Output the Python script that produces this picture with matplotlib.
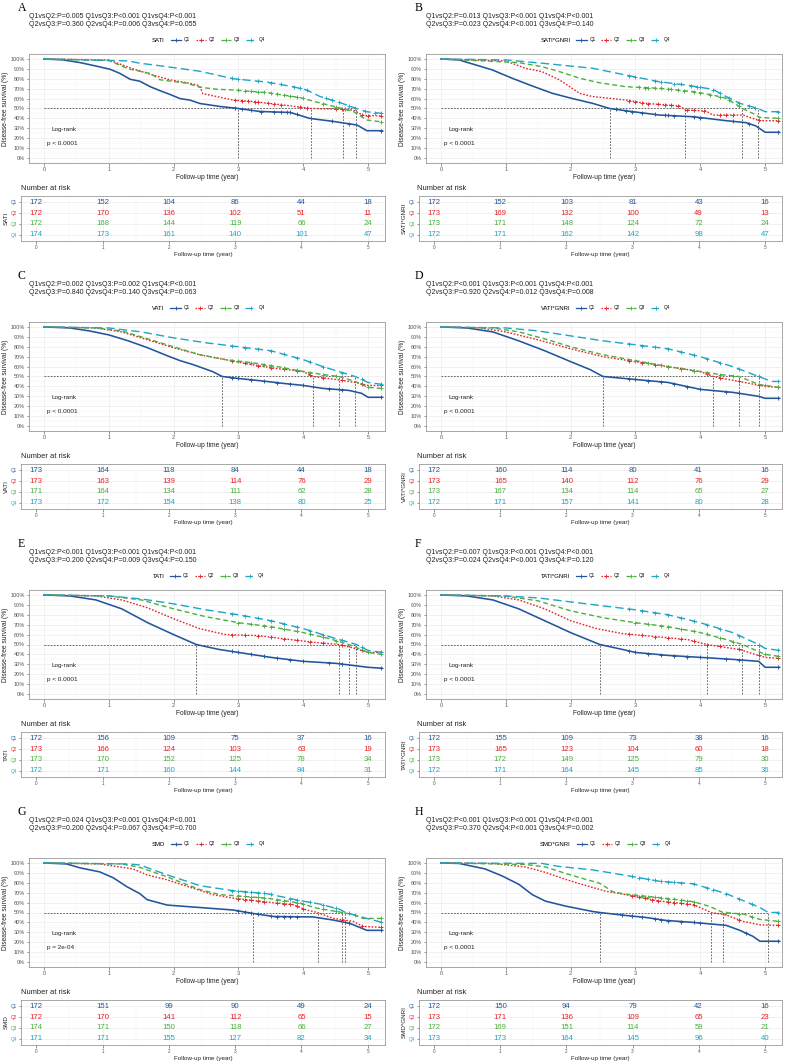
import numpy as np
import matplotlib
matplotlib.use("Agg")
import matplotlib.pyplot as plt
from matplotlib.lines import Line2D
from matplotlib.ticker import MultipleLocator, PercentFormatter

plt.rcParams["font.family"] = ["Liberation Sans", "DejaVu Sans"]

W, H = 787, 1064
GROUPS = ["Q1", "Q2", "Q3", "Q4"]
COLORS = ["#22559B", "#E3242B", "#4CAF3F", "#1FA5C6"]
STYLES = ["-", (0, (1.2, 1.2)), (0, (3.5, 2.2)), (0, (6, 3))]
YEARS = [0, 1, 2, 3, 4, 5]

# ---------------- A : SATI
A_q1 = [(0, 1), (0.3, 0.99), (0.56, 0.963), (0.86, 0.92), (1.02, 0.896), (1.17, 0.855), (1.33, 0.795),
        (1.48, 0.775), (1.64, 0.72), (1.79, 0.68), (1.94, 0.643), (2.1, 0.6), (2.25, 0.585), (2.41, 0.55),
        (2.72, 0.52), (3.0, 0.5), (3.33, 0.47), (3.8, 0.46), (4.1, 0.40), (4.46, 0.37), (4.83, 0.333),
        (4.98, 0.276), (5.22, 0.276)]
A_q2 = [(0, 1), (1.0, 0.99), (1.33, 0.91), (1.64, 0.845), (1.94, 0.79), (2.25, 0.755), (2.4, 0.73),
        (2.45, 0.65), (2.92, 0.585), (3.23, 0.57), (3.7, 0.535), (4.12, 0.50), (4.46, 0.495),
        (4.77, 0.485), (4.92, 0.43), (5.22, 0.425)]
A_q3 = [(0, 1), (1.0, 0.985), (1.3, 0.9), (1.64, 0.855), (1.79, 0.79), (2.2, 0.755), (2.41, 0.714),
        (2.67, 0.694), (2.92, 0.687), (3.44, 0.66), (3.95, 0.61), (4.2, 0.566), (4.6, 0.50),
        (4.77, 0.47), (4.98, 0.384), (5.22, 0.364)]
A_q4 = [(0, 1), (1.3, 0.98), (1.48, 0.957), (1.9, 0.922), (2.41, 0.875), (2.92, 0.80), (3.44, 0.767),
        (3.84, 0.72), (4.05, 0.687), (4.26, 0.62), (4.52, 0.57), (4.82, 0.50), (4.98, 0.467), (5.22, 0.45)]
A_c1 = [2.95, 3.05, 3.2, 3.35, 3.55, 3.65, 3.75, 3.8, 3.9, 4.45, 4.7, 5.2]
A_c2 = [2.95, 3.05, 3.15, 3.25, 3.3, 3.45, 3.55, 3.65, 3.95, 4.05, 4.5, 4.6, 4.9, 5.0, 5.2]
A_c3 = [3.0, 3.1, 3.2, 3.3, 3.4, 3.5, 3.6, 3.7, 3.8, 3.9, 4.0, 4.3, 4.5, 4.65, 5.2]
A_c4 = [2.9, 3.0, 3.3, 3.5, 3.65, 3.85, 3.95, 4.05, 4.35, 4.45, 4.55, 4.7, 4.8, 4.95, 5.1, 5.2]
A_med = [3.0, 4.12, 4.62, 4.82]
A_risk = [[172, 152, 104, 86, 44, 18], [172, 170, 136, 102, 51, 11],
          [172, 168, 144, 119, 66, 24], [174, 173, 161, 140, 101, 47]]
A_p = ["Q1vsQ2:P=0.005 Q1vsQ3:P<0.001 Q1vsQ4:P<0.001", "Q2vsQ3:P=0.360 Q2vsQ4:P=0.006 Q3vsQ4:P=0.055"]

# ---------------- B : SATI*GNRI
B_q1 = [(0, 1), (0.28, 0.99), (0.79, 0.89), (1.1, 0.805), (1.41, 0.727), (1.72, 0.653), (2.03, 0.6),
        (2.34, 0.552), (2.6, 0.50), (2.96, 0.468), (3.37, 0.434), (3.89, 0.417), (4.4, 0.377),
        (4.71, 0.357), (4.86, 0.323), (5.0, 0.26), (5.22, 0.26)]
B_q2 = [(0, 1), (1.0, 0.98), (1.3, 0.906), (1.56, 0.872), (1.83, 0.788), (2.14, 0.653), (2.34, 0.62),
        (2.85, 0.586), (3.16, 0.552), (3.68, 0.525), (3.77, 0.485), (4.09, 0.475), (4.19, 0.434),
        (4.66, 0.434), (4.81, 0.40), (4.92, 0.377), (5.22, 0.377)]
B_q3 = [(0, 1), (1.2, 0.963), (1.56, 0.922), (1.83, 0.872), (2.14, 0.805), (2.44, 0.76), (2.85, 0.72),
        (3.37, 0.704), (3.89, 0.67), (4.19, 0.636), (4.4, 0.603), (4.65, 0.50), (4.81, 0.451),
        (4.92, 0.41), (5.22, 0.40)]
B_q4 = [(0, 1), (1.0, 0.99), (1.56, 0.957), (2.34, 0.906), (2.85, 0.838), (3.37, 0.77), (3.78, 0.737),
        (4.19, 0.694), (4.4, 0.62), (4.61, 0.552), (4.89, 0.50), (5.0, 0.468), (5.22, 0.468)]
B_c1 = [2.7, 2.85, 2.95, 3.1, 3.3, 3.45, 3.5, 3.6, 3.9, 4.0, 4.5, 4.75, 5.2]
B_c2 = [2.9, 3.0, 3.1, 3.2, 3.35, 3.45, 3.55, 3.65, 3.8, 3.9, 4.05, 4.3, 4.4, 4.5, 4.9, 5.2]
B_c3 = [3.05, 3.15, 3.2, 3.3, 3.4, 3.5, 3.55, 3.65, 3.75, 3.9, 4.0, 4.15, 4.3, 4.45, 4.6, 5.2]
B_c4 = [2.9, 3.0, 3.3, 3.4, 3.6, 3.7, 3.85, 3.95, 4.0, 4.2, 4.3, 4.45, 4.6, 4.75, 4.85, 5.2]
B_med = [2.6, 3.77, 4.65, 4.89]
B_risk = [[172, 152, 103, 81, 43, 16], [173, 169, 132, 100, 49, 13],
          [173, 171, 148, 124, 72, 24], [172, 171, 162, 142, 98, 47]]
B_p = ["Q1vsQ2:P=0.013 Q1vsQ3:P<0.001 Q1vsQ4:P<0.001", "Q2vsQ3:P=0.023 Q2vsQ4:P<0.001 Q3vsQ4:P=0.140"]

# ---------------- C : VATI
C_q1 = [(0, 1), (0.4, 0.99), (0.7, 0.96), (1.0, 0.92), (1.3, 0.86), (1.6, 0.79), (1.9, 0.71), (2.1, 0.66),
        (2.3, 0.62), (2.6, 0.55), (2.75, 0.5), (3.0, 0.48), (3.3, 0.46), (3.7, 0.43), (4.0, 0.41),
        (4.3, 0.38), (4.7, 0.36), (4.9, 0.33), (5.0, 0.29), (5.22, 0.29)]
C_q2 = [(0, 1), (0.8, 0.99), (1.2, 0.95), (1.6, 0.87), (2.0, 0.79), (2.4, 0.72), (2.8, 0.67), (3.2, 0.62),
        (3.6, 0.58), (4.0, 0.55), (4.15, 0.5), (4.5, 0.47), (4.8, 0.44), (5.0, 0.41), (5.22, 0.41)]
C_q3 = [(0, 1), (0.8, 0.99), (1.2, 0.96), (1.6, 0.88), (2.0, 0.8), (2.4, 0.72), (2.8, 0.67), (3.2, 0.64),
        (3.6, 0.6), (4.0, 0.55), (4.3, 0.52), (4.55, 0.5), (4.8, 0.45), (5.0, 0.39), (5.22, 0.38)]
C_q4 = [(0, 1), (1.0, 0.99), (1.5, 0.95), (2.0, 0.89), (2.5, 0.84), (3.0, 0.8), (3.5, 0.76), (4.0, 0.67),
        (4.3, 0.6), (4.6, 0.54), (4.8, 0.5), (5.0, 0.44), (5.22, 0.42)]
C_c1 = [2.9, 3.0, 3.2, 3.4, 3.6, 3.8, 4.0, 4.4, 4.6, 5.2]
C_c2 = [2.9, 3.1, 3.3, 3.5, 3.7, 3.9, 4.1, 4.3, 4.6, 4.9, 5.2]
C_c3 = [3.0, 3.2, 3.4, 3.5, 3.7, 3.9, 4.1, 4.3, 4.5, 5.0, 5.2]
C_c4 = [2.9, 3.1, 3.3, 3.5, 3.7, 3.9, 4.1, 4.3, 4.6, 4.9, 5.2]
C_med = [2.75, 4.15, 4.55, 4.8]
C_risk = [[173, 164, 118, 84, 44, 18], [173, 163, 139, 114, 76, 29],
          [171, 164, 134, 111, 62, 28], [173, 172, 154, 138, 80, 25]]
C_p = ["Q1vsQ2:P=0.002 Q1vsQ3:P=0.002 Q1vsQ4:P<0.001", "Q2vsQ3:P=0.840 Q2vsQ4:P=0.140 Q3vsQ4:P=0.063"]

# ---------------- D : VATI*GNRI
D_q1 = [(0, 1), (0.4, 0.99), (0.8, 0.95), (1.2, 0.86), (1.6, 0.76), (2.0, 0.65), (2.3, 0.57), (2.5, 0.5),
        (3.0, 0.47), (3.5, 0.44), (4.0, 0.37), (4.5, 0.34), (4.9, 0.3), (5.0, 0.28), (5.22, 0.28)]
D_q2 = [(0, 1), (0.6, 0.99), (1.0, 0.95), (1.5, 0.87), (2.0, 0.78), (2.5, 0.7), (3.0, 0.65), (3.5, 0.6),
        (4.0, 0.55), (4.2, 0.5), (4.6, 0.45), (5.0, 0.4), (5.22, 0.39)]
D_q3 = [(0, 1), (0.8, 0.99), (1.2, 0.95), (1.6, 0.88), (2.0, 0.8), (2.5, 0.72), (3.0, 0.66), (3.5, 0.6),
        (4.0, 0.55), (4.3, 0.52), (4.6, 0.5), (4.9, 0.42), (5.22, 0.39)]
D_q4 = [(0, 1), (1.0, 0.99), (1.5, 0.96), (2.0, 0.91), (2.5, 0.86), (3.0, 0.82), (3.5, 0.78), (4.0, 0.7),
        (4.5, 0.6), (4.9, 0.5), (5.1, 0.45), (5.22, 0.45)]
D_c1 = [2.9, 3.0, 3.2, 3.4, 3.6, 3.8, 4.0, 4.4, 4.6, 5.2]
D_c2 = [2.9, 3.1, 3.3, 3.5, 3.7, 3.9, 4.1, 4.3, 4.6, 4.9, 5.2]
D_c3 = [3.0, 3.2, 3.4, 3.5, 3.7, 3.9, 4.1, 4.3, 4.5, 5.0, 5.2]
D_c4 = [2.9, 3.1, 3.3, 3.5, 3.7, 3.9, 4.1, 4.3, 4.6, 4.9, 5.2]
D_med = [2.5, 4.2, 4.6, 4.9]
D_risk = [[172, 160, 114, 80, 41, 16], [173, 165, 140, 112, 76, 29],
          [173, 167, 134, 114, 65, 27], [172, 171, 157, 141, 80, 28]]
D_p = ["Q1vsQ2:P<0.001 Q1vsQ3:P<0.001 Q1vsQ4:P<0.001", "Q2vsQ3:P=0.920 Q2vsQ4:P=0.012 Q3vsQ4:P=0.008"]

# ---------------- E : TATI
E_q1 = [(0, 1), (0.4, 0.99), (0.8, 0.95), (1.2, 0.86), (1.6, 0.72), (2.0, 0.6), (2.35, 0.5), (2.7, 0.45),
        (3.0, 0.42), (3.5, 0.37), (4.0, 0.33), (4.5, 0.31), (5.0, 0.27), (5.22, 0.26)]
E_q2 = [(0, 1), (0.8, 0.99), (1.2, 0.95), (1.6, 0.87), (2.0, 0.76), (2.4, 0.66), (2.8, 0.6), (3.3, 0.59),
        (3.8, 0.55), (4.2, 0.52), (4.55, 0.5), (4.8, 0.46), (5.0, 0.42), (5.22, 0.42)]
E_q3 = [(0, 1), (1.0, 0.99), (1.5, 0.95), (2.0, 0.86), (2.5, 0.78), (3.0, 0.72), (3.5, 0.68), (4.0, 0.62),
        (4.4, 0.56), (4.7, 0.5), (5.0, 0.42), (5.22, 0.4)]
E_q4 = [(0, 1), (1.0, 0.99), (1.5, 0.96), (2.0, 0.91), (2.5, 0.85), (3.0, 0.8), (3.5, 0.74), (4.0, 0.66),
        (4.5, 0.56), (4.82, 0.5), (5.0, 0.44), (5.22, 0.42)]
E_c1 = [2.9, 3.0, 3.2, 3.4, 3.6, 3.8, 4.0, 4.4, 4.6, 5.2]
E_c2 = [2.9, 3.1, 3.3, 3.5, 3.7, 3.9, 4.1, 4.3, 4.6, 4.9, 5.2]
E_c3 = [3.0, 3.2, 3.4, 3.5, 3.7, 3.9, 4.1, 4.3, 4.5, 5.0, 5.2]
E_c4 = [2.9, 3.1, 3.3, 3.5, 3.7, 3.9, 4.1, 4.3, 4.6, 4.9, 5.2]
E_med = [2.35, 4.55, 4.7, 4.82]
E_risk = [[172, 156, 109, 75, 37, 16], [173, 166, 124, 103, 63, 19],
          [173, 170, 152, 125, 78, 34], [172, 171, 160, 144, 84, 31]]
E_p = ["Q1vsQ2:P<0.001 Q1vsQ3:P<0.001 Q1vsQ4:P<0.001", "Q2vsQ3:P=0.200 Q2vsQ4:P=0.009 Q3vsQ4:P=0.150"]

# ---------------- F : TATI*GNRI
F_q1 = [(0, 1), (0.4, 0.99), (0.8, 0.95), (1.2, 0.86), (1.6, 0.74), (2.0, 0.62), (2.45, 0.5), (2.8, 0.45),
        (3.0, 0.42), (3.5, 0.39), (4.0, 0.37), (4.5, 0.35), (4.9, 0.33), (5.0, 0.27), (5.22, 0.27)]
F_q2 = [(0, 1), (0.8, 0.99), (1.2, 0.95), (1.6, 0.86), (2.0, 0.74), (2.4, 0.66), (2.8, 0.61), (3.3, 0.58),
        (3.8, 0.55), (4.1, 0.5), (4.6, 0.45), (5.0, 0.37), (5.22, 0.36)]
F_q3 = [(0, 1), (1.0, 0.99), (1.5, 0.94), (2.0, 0.84), (2.5, 0.77), (3.0, 0.72), (3.5, 0.68), (4.0, 0.62),
        (4.4, 0.55), (4.65, 0.5), (5.0, 0.4), (5.22, 0.38)]
F_q4 = [(0, 1), (1.0, 0.99), (1.5, 0.97), (2.0, 0.93), (2.5, 0.89), (3.0, 0.85), (3.5, 0.8), (4.0, 0.72),
        (4.5, 0.62), (4.9, 0.5), (5.0, 0.46), (5.22, 0.44)]
F_c1 = [2.9, 3.0, 3.2, 3.4, 3.6, 3.8, 4.0, 4.4, 4.6, 5.2]
F_c2 = [2.9, 3.1, 3.3, 3.5, 3.7, 3.9, 4.1, 4.3, 4.6, 4.9, 5.2]
F_c3 = [3.0, 3.2, 3.4, 3.5, 3.7, 3.9, 4.1, 4.3, 4.5, 5.0, 5.2]
F_c4 = [2.9, 3.1, 3.3, 3.5, 3.7, 3.9, 4.1, 4.3, 4.6, 4.9, 5.2]
F_med = [2.45, 4.1, 4.65, 4.9]
F_risk = [[172, 155, 109, 73, 38, 16], [173, 165, 123, 104, 60, 18],
          [173, 172, 149, 125, 79, 30], [172, 171, 164, 145, 85, 36]]
F_p = ["Q1vsQ2:P=0.007 Q1vsQ3:P<0.001 Q1vsQ4:P<0.001", "Q2vsQ3:P=0.024 Q2vsQ4:P<0.001 Q3vsQ4:P=0.120"]

# ---------------- G : SMD
G_q1 = [(0, 1), (0.35, 0.99), (0.56, 0.95), (0.86, 0.91), (1.07, 0.85), (1.28, 0.76), (1.48, 0.69),
        (1.59, 0.63), (1.9, 0.575), (2.41, 0.55), (2.92, 0.525), (3.23, 0.49), (3.54, 0.46),
        (4.15, 0.455), (4.46, 0.424), (4.72, 0.39), (4.98, 0.32), (5.22, 0.32)]
G_q2 = [(0, 1), (0.86, 0.99), (1.37, 0.94), (1.59, 0.88), (1.9, 0.83), (2.3, 0.745), (2.61, 0.68),
        (2.92, 0.645), (3.44, 0.605), (3.84, 0.58), (4.05, 0.525), (4.22, 0.5), (4.46, 0.44),
        (4.77, 0.41), (4.92, 0.36), (5.22, 0.35)]
G_q3 = [(0, 1), (1.2, 0.99), (1.48, 0.955), (1.9, 0.86), (2.41, 0.73), (2.72, 0.68), (3.44, 0.645),
        (3.95, 0.595), (4.2, 0.545), (4.6, 0.50), (4.77, 0.48), (4.92, 0.44), (5.22, 0.44)]
G_q4 = [(0, 1), (1.3, 0.99), (1.48, 0.98), (1.9, 0.88), (2.41, 0.77), (2.92, 0.72), (3.44, 0.69),
        (3.95, 0.62), (4.26, 0.585), (4.57, 0.53), (4.65, 0.50), (4.98, 0.44), (5.22, 0.40)]
G_c1 = [3.0, 3.1, 3.2, 3.3, 3.5, 3.6, 3.7, 3.8, 3.9, 4.7, 5.2]
G_c2 = [3.0, 3.1, 3.2, 3.3, 3.4, 3.6, 3.7, 3.8, 3.9, 4.0, 4.6, 4.9, 5.2]
G_c3 = [3.0, 3.1, 3.2, 3.3, 3.4, 3.6, 3.7, 3.9, 4.0, 4.3, 4.5, 4.8, 5.2]
G_c4 = [2.9, 3.0, 3.1, 3.2, 3.3, 3.4, 3.5, 3.8, 3.9, 4.1, 4.3, 4.5, 4.7, 5.2]
G_med = [3.22, 4.22, 4.6, 4.65]
G_risk = [[172, 151, 99, 90, 49, 24], [172, 170, 141, 112, 65, 15],
          [174, 171, 150, 118, 66, 27], [171, 171, 155, 127, 82, 34]]
G_p = ["Q1vsQ2:P=0.024 Q1vsQ3:P<0.001 Q1vsQ4:P<0.001", "Q2vsQ3:P=0.200 Q2vsQ4:P=0.067 Q3vsQ4:P=0.700"]

# ---------------- H : SMD*GNRI
H_q1 = [(0, 1), (0.28, 0.995), (0.68, 0.94), (0.94, 0.87), (1.2, 0.785), (1.41, 0.68), (1.61, 0.615),
        (1.92, 0.565), (2.34, 0.51), (2.45, 0.50), (2.85, 0.47), (3.16, 0.45), (3.47, 0.42), (3.89, 0.40),
        (4.4, 0.37), (4.61, 0.32), (4.81, 0.26), (4.92, 0.21), (5.22, 0.21)]
H_q2 = [(0, 1), (0.79, 0.995), (1.3, 0.96), (1.61, 0.905), (1.92, 0.835), (2.14, 0.79), (2.54, 0.715),
        (2.85, 0.68), (3.37, 0.615), (3.89, 0.58), (4.17, 0.50), (4.4, 0.475), (4.66, 0.41),
        (4.92, 0.375), (5.22, 0.37)]
H_q3 = [(0, 1), (1.3, 0.985), (1.61, 0.96), (1.92, 0.895), (2.23, 0.835), (2.45, 0.795), (2.65, 0.71),
        (2.85, 0.685), (3.37, 0.65), (3.89, 0.61), (4.15, 0.56), (4.35, 0.50), (4.66, 0.485),
        (4.92, 0.43), (5.22, 0.41)]
H_q4 = [(0, 1), (1.56, 0.995), (1.82, 0.965), (2.34, 0.93), (2.85, 0.875), (3.37, 0.815), (3.89, 0.79),
        (4.15, 0.74), (4.4, 0.69), (4.66, 0.62), (4.92, 0.55), (5.05, 0.50), (5.22, 0.50)]
H_c1 = [2.8, 2.95, 3.1, 3.3, 3.4, 3.5, 3.7, 3.9, 4.0, 4.7, 5.2]
H_c2 = [2.95, 3.05, 3.15, 3.25, 3.35, 3.5, 3.6, 3.7, 3.8, 3.9, 4.6, 5.2]
H_c3 = [3.0, 3.1, 3.2, 3.3, 3.4, 3.5, 3.6, 3.7, 3.8, 3.9, 4.4, 4.6, 4.8, 5.2]
H_c4 = [2.95, 3.05, 3.2, 3.3, 3.4, 3.5, 3.6, 3.7, 3.9, 4.1, 4.2, 4.4, 4.6, 4.8, 5.2]
H_med = [2.45, 4.17, 4.35, 5.05]
H_risk = [[172, 150, 94, 79, 42, 16], [173, 171, 136, 109, 65, 23],
          [172, 169, 151, 114, 59, 21], [173, 173, 164, 145, 96, 40]]
H_p = ["Q1vsQ2:P<0.001 Q1vsQ3:P<0.001 Q1vsQ4:P<0.001", "Q2vsQ3:P=0.370 Q2vsQ4:P<0.001 Q3vsQ4:P=0.002"]

PANELS = [
    ("A", "SATI", A_p, "p < 0.0001", [A_q1, A_q2, A_q3, A_q4], [A_c1, A_c2, A_c3, A_c4], A_med, A_risk),
    ("B", "SATI*GNRI", B_p, "p < 0.0001", [B_q1, B_q2, B_q3, B_q4], [B_c1, B_c2, B_c3, B_c4], B_med, B_risk),
    ("C", "VATI", C_p, "p < 0.0001", [C_q1, C_q2, C_q3, C_q4], [C_c1, C_c2, C_c3, C_c4], C_med, C_risk),
    ("D", "VATI*GNRI", D_p, "p < 0.0001", [D_q1, D_q2, D_q3, D_q4], [D_c1, D_c2, D_c3, D_c4], D_med, D_risk),
    ("E", "TATI", E_p, "p < 0.0001", [E_q1, E_q2, E_q3, E_q4], [E_c1, E_c2, E_c3, E_c4], E_med, E_risk),
    ("F", "TATI*GNRI", F_p, "p < 0.0001", [F_q1, F_q2, F_q3, F_q4], [F_c1, F_c2, F_c3, F_c4], F_med, F_risk),
    ("G", "SMD", G_p, "p = 2e-04", [G_q1, G_q2, G_q3, G_q4], [G_c1, G_c2, G_c3, G_c4], G_med, G_risk),
    ("H", "SMD*GNRI", H_p, "p < 0.0001", [H_q1, H_q2, H_q3, H_q4], [H_c1, H_c2, H_c3, H_c4], H_med, H_risk),
]

fig = plt.figure(figsize=(W / 100, H / 100), dpi=100)


def box(x0, y0, x1, y1):
    return [x0 / W, 1 - y1 / H, (x1 - x0) / W, (y1 - y0) / H]


def style_axes(ax):
    ax.set_facecolor("white")
    for sp in ax.spines.values():
        sp.set_color("#9A9A9A")
        sp.set_linewidth(0.6)
    ax.grid(True, which="major", color="#EBEBEB", lw=0.5)
    ax.grid(True, which="minor", color="#F4F4F4", lw=0.35)
    ax.set_axisbelow(True)
    ax.tick_params(which="major", length=1.8, width=0.4, color="#444444",
                   labelsize=4.0, labelcolor="#555555", pad=1)
    ax.tick_params(which="minor", length=0)


for i, (letter, name, ptext, pval, curves, censors, medians, risk) in enumerate(PANELS):
    col, row = i % 2, i // 2
    dy = row * 268
    if col == 0:
        pl, pr, tl, lx = 29, 385, 21, 18
    else:
        pl, pr, tl, lx = 426, 782, 419, 415

    # header texts
    fig.text(lx / W, 1 - (8 + dy) / H, letter, family="Liberation Serif", fontsize=8.5,
             ha="left", va="center")
    fig.text(pl / W, 1 - (16 + dy) / H, ptext[0], fontsize=5, ha="left", va="center", color="#222222")
    fig.text(pl / W, 1 - (25 + dy) / H, ptext[1], fontsize=5, ha="left", va="center", color="#222222")

    # survival curves
    ax = fig.add_axes(box(pl, 54 + dy, pr, 163 + dy))
    style_axes(ax)
    handles = [Line2D([], [], linestyle="none", label=name)]
    for g in range(4):
        t = np.array([p[0] for p in curves[g]])
        s = np.array([p[1] for p in curves[g]])
        ax.plot(t, s, color=COLORS[g], ls=STYLES[g], lw=1.15 if g == 0 else 1.0, zorder=3 + g)
        ct = np.array(censors[g])
        ax.plot(ct, np.interp(ct, t, s), ls="none", marker="+", ms=3.4, mew=0.65,
                color=COLORS[g], zorder=3 + g)
        handles.append(Line2D([], [], color=COLORS[g], ls=STYLES[g], lw=0.9, marker="+",
                              ms=3, mew=0.6, label=GROUPS[g]))
    ax.plot([0, max(medians)], [0.5, 0.5], color="#333333", lw=0.5, ls=(0, (2.5, 2)), zorder=2)
    ax.vlines(medians, 0, 0.5, color="#333333", lw=0.5, ls=(0, (2.5, 2)), zorder=2)
    ax.text(0.12, 0.29, "Log-rank", fontsize=4.6, ha="left", va="center", color="#222222")
    ax.text(0.04, 0.145, pval, fontsize=4.6, ha="left", va="center", color="#222222")
    ax.set_xlim(-0.23, 5.26)
    ax.set_ylim(-0.05, 1.05)
    ax.set_xticks(YEARS)
    ax.xaxis.set_minor_locator(MultipleLocator(0.5))
    ax.yaxis.set_major_locator(MultipleLocator(0.1))
    ax.yaxis.set_minor_locator(MultipleLocator(0.05))
    ax.yaxis.set_major_formatter(PercentFormatter(1.0, decimals=0))
    ax.set_xlabel("Follow-up time (year)", fontsize=4.8, labelpad=1.5, color="#222222")
    ax.set_ylabel("Disease-free survival (%)", fontsize=4.8, labelpad=1.5, color="#222222")

    leg = ax.legend(handles=handles, ncol=5, loc="center", frameon=False,
                    bbox_to_anchor=((pl + pr) / 2 / W - 5 / W, 1 - (40 + dy) / H),
                    bbox_transform=fig.transFigure, fontsize=3.3, handlelength=2.2,
                    handletextpad=0.6, columnspacing=1.3, borderpad=0)
    leg.get_texts()[0].set_fontsize(4.3)

    # risk table
    fig.text(lx / W + (3 / W if col == 0 else 2 / W), 1 - (189 + dy) / H, "Number at risk",
             fontsize=5.4, ha="left", va="center", color="#222222")
    tb = fig.add_axes(box(tl, 196 + dy, pr, 241 + dy))
    style_axes(tb)
    for g in range(4):
        for x, n in zip(YEARS, risk[g]):
            tb.text(x, 4 - g, str(n), color=COLORS[g], fontsize=5.6, ha="center", va="center")
    tb.set_xlim(-0.23, 5.26)
    tb.set_ylim(0.45, 4.55)
    tb.set_xticks(YEARS)
    tb.xaxis.set_minor_locator(MultipleLocator(0.5))
    tb.set_yticks([4, 3, 2, 1])
    tb.set_yticklabels(GROUPS)
    for lab, c in zip(tb.get_yticklabels(), COLORS):
        lab.set_color(c)
        lab.set_fontsize(3.3)
    tb.tick_params(axis="x", labelsize=3.3)
    tb.set_xlabel("Follow-up time (year)", fontsize=4.5, labelpad=1.2, color="#222222")
    tb.set_ylabel(name, fontsize=4.5, labelpad=1.2, color="#222222")

fig.savefig("out.png", dpi=100, facecolor="white")
